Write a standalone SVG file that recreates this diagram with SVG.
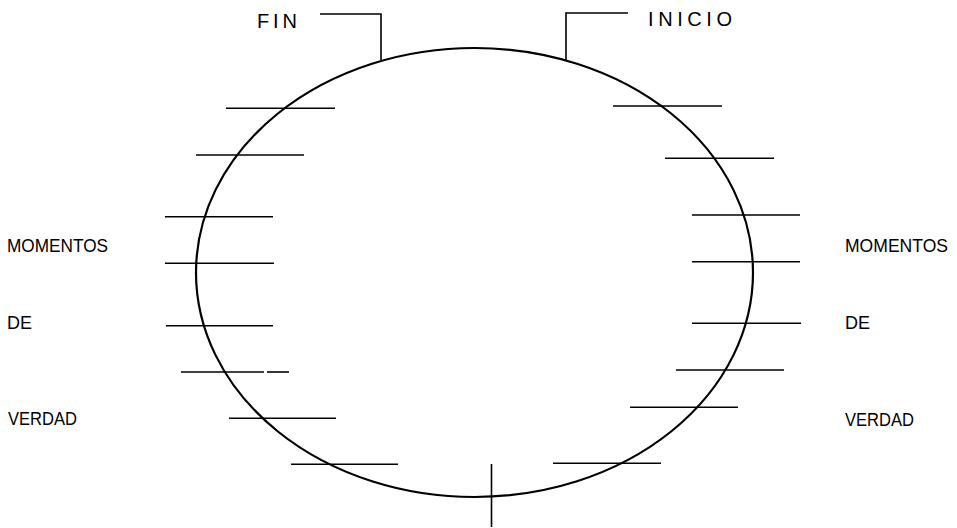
<svg xmlns="http://www.w3.org/2000/svg" width="957" height="528" viewBox="0 0 957 528">
<style>
.t{font-family:"Liberation Sans",Arial,sans-serif;font-size:18px;fill:#000}
.s{font-family:"Liberation Sans",Arial,sans-serif;font-size:20px;fill:#000}
.l{stroke:#000;stroke-width:1.6;fill:none}
.e{stroke:#000;stroke-width:2.2;fill:none}
</style>
<rect width="957" height="528" fill="#fff"/>
<g id="cycle">
<ellipse class="e" cx="474.5" cy="272.5" rx="278.5" ry="224.5"/>
</g>
<g id="fin">
<text class="s" x="257" y="28" textLength="40" lengthAdjust="spacing">FIN</text>
</g>
<g id="inicio">
<text class="s" x="648" y="26" textLength="84" lengthAdjust="spacing">INICIO</text>
</g>
<g id="left-labels">
<text class="t" x="7" y="252" textLength="101" lengthAdjust="spacingAndGlyphs">MOMENTOS</text>
<text class="t" x="7" y="329">DE</text>
<text class="t" x="8" y="425" textLength="69" lengthAdjust="spacingAndGlyphs">VERDAD</text>
</g>
<g id="right-labels">
<text class="t" x="845" y="252" textLength="103" lengthAdjust="spacingAndGlyphs">MOMENTOS</text>
<text class="t" x="845" y="329">DE</text>
<text class="t" x="845" y="426" textLength="69" lengthAdjust="spacingAndGlyphs">VERDAD</text>
</g>
<g id="connectors">
<polyline class="l" points="320,14 381,14 381,60"/>
<polyline class="l" points="628,13 566,13 566,60"/>
<line class="l" x1="491.5" y1="464" x2="491.5" y2="527"/>
<line class="l" x1="226" y1="108.3" x2="335" y2="108.3"/>
<line class="l" x1="196" y1="155" x2="304" y2="155" stroke-width="2"/>
<line class="l" x1="165" y1="216.7" x2="273" y2="216.7" stroke-width="2"/>
<line class="l" x1="165" y1="263.3" x2="274" y2="263.3"/>
<line class="l" x1="166" y1="325.7" x2="273" y2="325.7" stroke-width="2"/>
<line class="l" x1="181" y1="372" x2="264" y2="372"/>
<line class="l" x1="267" y1="372" x2="289" y2="372"/>
<line class="l" x1="229" y1="418.3" x2="336" y2="418.3"/>
<line class="l" x1="291" y1="464.3" x2="398" y2="464.3" stroke-width="2"/>
<line class="l" x1="613" y1="106" x2="722" y2="106"/>
<line class="l" x1="665" y1="158.3" x2="774" y2="158.3"/>
<line class="l" x1="692" y1="215" x2="800" y2="215" stroke-width="2"/>
<line class="l" x1="692" y1="261.7" x2="800" y2="261.7" stroke-width="2"/>
<line class="l" x1="692" y1="323.3" x2="801" y2="323.3"/>
<line class="l" x1="676" y1="370" x2="784" y2="370" stroke-width="2"/>
<line class="l" x1="630" y1="407.3" x2="738" y2="407.3"/>
<line class="l" x1="553" y1="463.3" x2="661" y2="463.3"/>
</g>
</svg>
